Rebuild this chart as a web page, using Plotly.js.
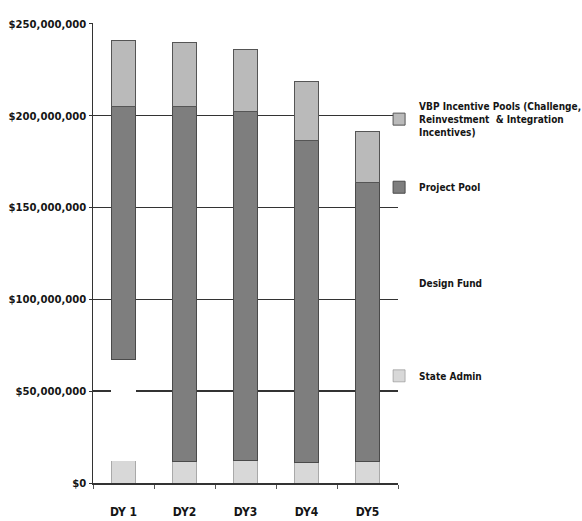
<!DOCTYPE html>
<html>
<head>
<meta charset="utf-8">
<script src="https://cdn.plot.ly/plotly-3.0.1.min.js"></script>
<style>
  html, body { margin: 0; padding: 0; background: #ffffff; }
  #chart { width: 582px; height: 521px; }
</style>
</head>
<body>
<div id="chart"></div>
<script>
// Categories (demonstration years)
const categories = ["DY 1", "DY2", "DY3", "DY4", "DY5"];

// Series values in dollars
const stateAdmin  = [12000000, 11500000, 12000000, 11000000, 11500000];
const designFund  = [55000000, 0, 0, 0, 0];
const projectPool = [138000000, 193500000, 190000000, 175500000, 152000000];
const vbpPools    = [36000000, 35000000, 34000000, 32000000, 28000000];

// Series names
const seriesNames = [
  "State Admin",
  "Design Fund",
  "Project Pool",
  "VBP Incentive Pools (Challenge,<br>Reinvestment  &amp; Integration<br>Incentives)"
];

// Y axis ticks
const yTickValues = [0, 50000000, 100000000, 150000000, 200000000, 250000000];
const yTickLabels = ["$0", "$50,000,000", "$100,000,000", "$150,000,000", "$200,000,000", "$250,000,000"];

const FONT = "'DejaVu Sans Condensed', 'DejaVu Sans', sans-serif";
const TEXT = "#151515";

const traces = [
  {
    type: "bar", x: categories, y: stateAdmin, name: seriesNames[0],
    marker: { color: "#d8d8d8", line: { color: "#8a8a8a", width: 0.6 } },
    legend: "legend4", width: 0.4
  },
  {
    type: "bar", x: categories, y: designFund, name: seriesNames[1],
    marker: { color: "#ffffff", line: { color: "#ffffff", width: 0 } },
    legend: "legend3", width: 0.4
  },
  {
    type: "bar", x: categories, y: projectPool, name: seriesNames[2],
    marker: { color: "#7e7e7e", line: { color: "#4a4a4a", width: 1 } },
    legend: "legend2", width: 0.4
  },
  {
    type: "bar", x: categories, y: vbpPools, name: seriesNames[3],
    marker: { color: "#bababa", line: { color: "#555555", width: 1 } },
    legend: "legend", width: 0.4
  }
];

function fnt(size, weight) {
  return { family: FONT, size: size, color: TEXT, weight: weight || "bold", stretch: "condensed" };
}

function legendAt(y) {
  return {
    x: 0.938, xanchor: "left", y: y, yanchor: "middle",
    bgcolor: "rgba(0,0,0,0)", borderwidth: 0,
    font: fnt(10),
    itemwidth: 30, itemclick: false, itemdoubleclick: false
  };
}

const layout = {
  width: 582, height: 521,
  margin: { l: 93, r: 184, t: 23, b: 38, autoexpand: false },
  paper_bgcolor: "#ffffff", plot_bgcolor: "#ffffff",
  barmode: "stack",
  showlegend: true,
  font: fnt(12),
  xaxis: {
    type: "category",
    showline: true, linecolor: "#333333", linewidth: 1.5,
    ticks: "outside", tickson: "boundaries", ticklen: 4, tickcolor: "#555555",
    ticklabelstandoff: 17,
    tickfont: fnt(12),
    showgrid: false, zeroline: false
  },
  yaxis: {
    range: [0, 250400000],
    tickvals: yTickValues,
    ticktext: yTickLabels,
    showline: true, linecolor: "#333333", linewidth: 1.5,
    ticks: "outside", ticklen: 3, tickcolor: "#333333",
    showgrid: true, gridcolor: "#333333", gridwidth: 1.5,
    zeroline: false,
    tickfont: fnt(11.2)
  },
  legend: legendAt(0.791),
  legend2: legendAt(0.643),
  legend3: legendAt(0.435),
  legend4: legendAt(0.233)
};

Plotly.newPlot("chart", traces, layout, { displayModeBar: false, staticPlot: true });
</script>
</body>
</html>
